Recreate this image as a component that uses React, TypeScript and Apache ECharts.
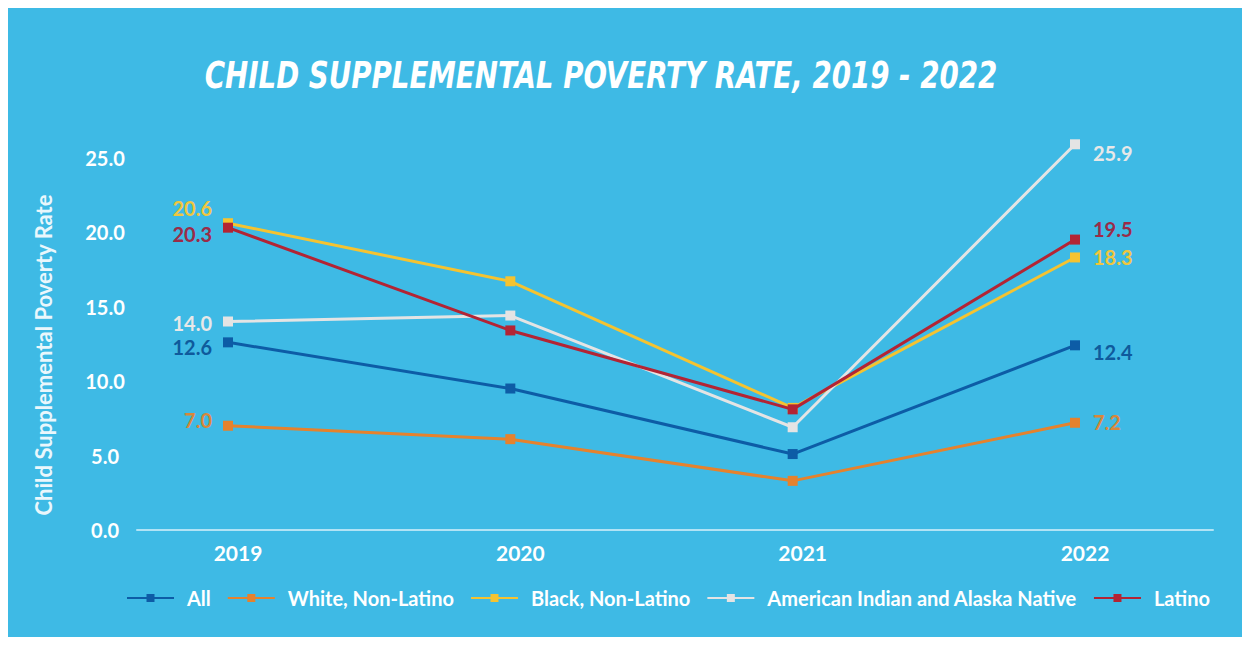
import React, { useEffect, useRef } from "react";
import * as echarts from "echarts";

const titleText = "CHILD SUPPLEMENTAL POVERTY RATE, 2019 - 2022";
const yAxisName = "Child Supplemental Poverty Rate";
const years = [2019, 2020, 2021, 2022];
const seriesNames = [
  "All",
  "White, Non-Latino",
  "Black, Non-Latino",
  "American Indian and Alaska Native",
  "Latino",
];
const allValues = [12.6, 9.5, 5.1, 12.4];
const whiteValues = [7.0, 6.1, 3.3, 7.2];
const blackValues = [20.6, 16.7, 8.2, 18.3];
const aianValues = [14.0, 14.4, 6.9, 25.9];
const latinoValues = [20.3, 13.4, 8.1, 19.5];
const yTicks = [0, 5, 10, 15, 20, 25];

const seriesValues = [allValues, whiteValues, blackValues, aianValues, latinoValues];
const lineColors = ["#0D5CA6", "#E5822D", "#F5C330", "#E4E4E4", "#B32434"];
const labelColors = ["#0F5A9C", "#D8873A", "#F0C63E", "#E8E8E8", "#9B2B48"];
const firstLabelOffsets = [5, -6, -15, 1, 6];
const lastLabelOffsets = [7, -1, 0, 9, -11];

const FONT = "Lato, 'Noto Sans', sans-serif";
const TITLE_FONT = "italic bold 38px 'DejaVu Sans Condensed', 'DejaVu Sans', sans-serif";
const TITLE_WIDTH = 793;

export default function App() {
  const ref = useRef<HTMLDivElement>(null);
  useEffect(() => {
    if (!ref.current) return;
    const chart = echarts.init(ref.current, undefined, { renderer: "svg" });

    let titleScale = 0.8;
    const canvas = document.createElement("canvas");
    const ctx = canvas.getContext("2d");
    if (ctx) {
      ctx.font = TITLE_FONT;
      const w = ctx.measureText(titleText).width;
      if (w > 0) titleScale = TITLE_WIDTH / w;
    }

    const series = seriesValues.map((vals, si) => ({
      type: "line",
      name: seriesNames[si],
      symbol: "rect",
      symbolSize: 10,
      z: 2 + si,
      lineStyle: { width: 3, color: lineColors[si] },
      itemStyle: { color: lineColors[si] },
      label: {
        color: labelColors[si],
        fontSize: 20,
        fontFamily: FONT,
        fontWeight: "bold",
        formatter: (p: any) => Number(p.value[1]).toFixed(1),
      },
      data: vals.map((v, i) => ({
        value: [years[i], v],
        label:
          i === 0
            ? { show: true, position: "left", distance: 11, offset: [0, firstLabelOffsets[si]] }
            : i === vals.length - 1
            ? { show: true, position: "right", distance: 13, offset: [0, lastLabelOffsets[si]] }
            : { show: false },
      })),
    }));
    chart.setOption({
      animation: false,
      backgroundColor: "transparent",
      grid: { left: 129, right: 29, top: 105, bottom: 107 },
      xAxis: {
        type: "value",
        min: 2018.6777,
        max: 2022.4888,
        axisLine: { show: true, lineStyle: { color: "rgba(255,255,255,0.6)", width: 2 } },
        axisTick: { show: false },
        splitLine: { show: false },
        axisLabel: {
          customValues: years,
          color: "#FFFFFF",
          fontSize: 21,
          fontFamily: FONT,
          fontWeight: "bold",
          margin: 12,
          padding: [0, 0, 0, 20],
          formatter: (v: number) => String(Math.round(v)),
        },
      },
      yAxis: {
        type: "value",
        min: 0,
        max: 28,
        interval: 5,
        axisLine: { show: false },
        axisTick: { show: false },
        splitLine: { show: false },
        axisLabel: {
          customValues: yTicks,
          color: "#FFFFFF",
          fontSize: 20,
          fontFamily: FONT,
          fontWeight: "bold",
          align: "center",
          margin: 32,
          formatter: (v: number) => (v % 5 === 0 ? v.toFixed(1) : ""),
        },
      },
      legend: {
        left: 113,
        top: 575,
        orient: "horizontal",
        itemWidth: 47,
        itemHeight: 10,
        itemGap: 16,
        textStyle: {
          color: "#FFFFFF",
          fontSize: 20,
          fontWeight: "bold",
          fontFamily: FONT,
          padding: [0, 0, 0, 8],
        },
        data: seriesNames,
      },
      graphic: [
        {
          type: "text",
          x: 593,
          y: 67,
          scaleX: titleScale,
          style: {
            text: titleText,
            fill: "#FFFFFF",
            font: TITLE_FONT,
            align: "center",
            verticalAlign: "middle",
          },
        },
        {
          type: "text",
          x: 35,
          y: 347,
          rotation: Math.PI / 2,
          style: {
            text: yAxisName,
            fill: "#EAF7FC",
            font: "bold 22px Lato, 'Noto Sans', sans-serif",
            align: "center",
            verticalAlign: "middle",
          },
        },
      ],
      series,
    });
    return () => chart.dispose();
  }, []);
  return <div ref={ref} style={{ width: 1234, height: 629, background: "#3EBAE5" }} />;
}
